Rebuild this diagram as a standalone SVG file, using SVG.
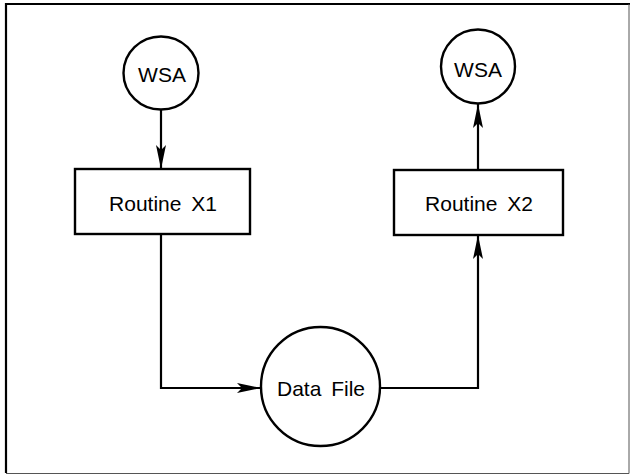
<svg xmlns="http://www.w3.org/2000/svg" width="630" height="475" viewBox="0 0 630 475">
  <style>
    .shape { fill: #ffffff; stroke: #000000; stroke-width: 2.4; }
    .conn { fill: none; stroke: #000000; stroke-width: 2.2; }
    .lbl { font-family: "Liberation Sans", Arial, sans-serif; font-size: 21px; fill: #000000; text-anchor: middle; }
  </style>
  <defs>
    <marker id="arrow" markerUnits="userSpaceOnUse" markerWidth="26" markerHeight="12" refX="24" refY="5.5" orient="auto">
      <path d="M0,0.5 L24,5.5 L0,10.5 L5,5.5 Z" fill="#000000"/>
    </marker>
  </defs>
  <rect x="0" y="0" width="630" height="475" fill="#ffffff"/>
  <g id="frame">
    <path d="M6,473 L6,4 L630,4" fill="none" stroke="#000000" stroke-width="2.2"/>
    <path d="M6,473.5 L629,473.5 L629,4" fill="none" stroke="#555555" stroke-width="1"/>
  </g>
  <g id="connectors">
    <path class="conn" d="M161,110 L161,169" marker-end="url(#arrow)"/>
    <path class="conn" d="M161,235 L161,388 L261,388" marker-end="url(#arrow)"/>
    <path class="conn" d="M380,388 L478,388 L478,235" marker-end="url(#arrow)"/>
    <path class="conn" d="M478,170 L478,104" marker-end="url(#arrow)"/>
  </g>
  <g id="wsa-in">
    <ellipse class="shape" cx="161" cy="73" rx="37.5" ry="36.5"/>
    <text class="lbl" x="162" y="82">WSA</text>
  </g>
  <g id="routine-x1">
    <rect class="shape" x="75" y="169" width="175" height="65"/>
    <text class="lbl" x="163" y="211" word-spacing="4">Routine X1</text>
  </g>
  <g id="data-file">
    <circle class="shape" cx="320.5" cy="386.5" r="59.5"/>
    <text class="lbl" x="321" y="396" word-spacing="4">Data File</text>
  </g>
  <g id="routine-x2">
    <rect class="shape" x="394" y="170" width="169" height="65"/>
    <text class="lbl" x="479" y="211" word-spacing="4">Routine X2</text>
  </g>
  <g id="wsa-out">
    <ellipse class="shape" cx="478" cy="66.5" rx="37" ry="37"/>
    <text class="lbl" x="478" y="77">WSA</text>
  </g>
</svg>
